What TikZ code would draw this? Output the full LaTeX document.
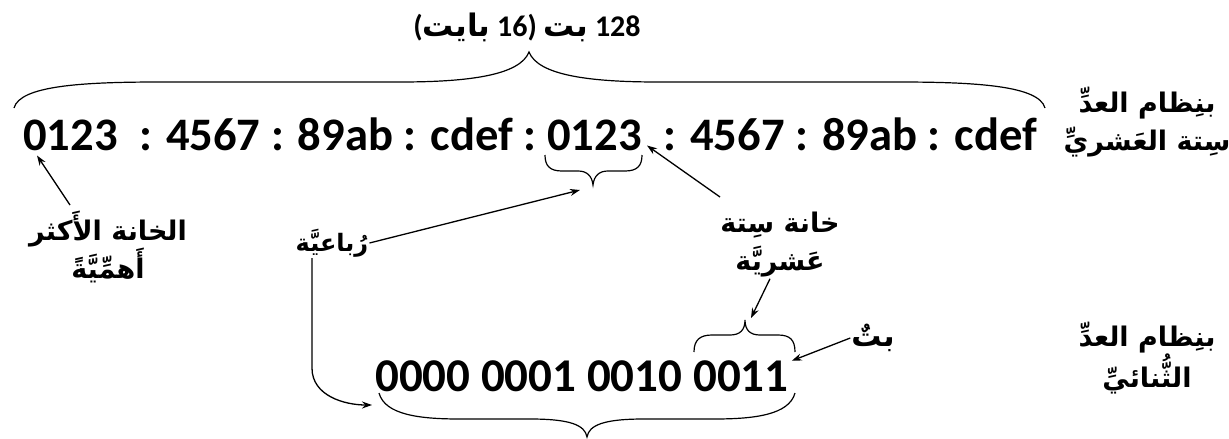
\documentclass[tikz,border=0pt]{standalone}
\usepackage{fontspec}
\setmainfont{Carlito}
\newfontfamily\arfont[Script=Arabic]{DejaVu Sans}
\TeXXeTstate=1
\usetikzlibrary{arrows.meta}
\begin{document}
\begin{tikzpicture}[x=1pt,y=-1pt,
  hex/.style={font=\fontsize{46.6}{56}\selectfont\bfseries, inner sep=0pt, anchor=base west},
  bin/.style={font=\fontsize{47}{56}\selectfont\bfseries, inner sep=0pt, anchor=base west},
  lbl/.style={font=\arfont\bfseries\fontsize{27}{38}\selectfont, align=center, inner sep=1pt},
  brc/.style={line width=1.2pt},
  arr/.style={line width=1.3pt, -{Stealth[length=10pt,width=7pt]}},
]
\useasboundingbox (0,0) rectangle (1229,439);

% hexadecimal line
\node[hex] (h1) at (23,150) {0123};
\node[hex] (r1) at (h1.base east) {\ \ : 4567 : 89ab : cdef :\ \hbox{}};
\node[hex] (h2) at (r1.base east) {0123};
\node[hex] (r2) at (h2.base east) {\ \ : 4567 : 89ab : cdef};

% binary line
\node[bin] (b1) at (375,391) {0000 0001 0010\ \hbox{}};
\node[bin] (b2) at (b1.base east) {0011};

% title
\node[font=\fontsize{30}{36}\selectfont\bfseries, inner sep=0pt] (top) at (527,27)
  {({\arfont\fontsize{31}{36}\selectfont\beginR بايت\endR} 16) {\arfont\fontsize{31}{36}\selectfont\beginR بت\endR} 128};

% labels
\node[lbl] (hexlbl) at (1147,122) {\beginR بنِظام العدِّ\endR\\\beginR سِتة العَشريِّ\endR};
\node[lbl] (binlbl) at (1147,358) {\beginR بنِظام العدِّ\endR\\\beginR الثُّنائيِّ\endR};
\node[lbl] (msd) at (108,247) {\beginR الخانة الأَكثر\endR\\\beginR أَهمِّيَّةً\endR};
\node[lbl, font=\arfont\bfseries\fontsize{24}{38}\selectfont] (quad) at (332,243) {\beginR رُباعيَّة\endR};
\node[lbl] (hexd) at (780,245) {\beginR خانة سِتة\endR\\\beginR عَشريَّة\endR};
\node[lbl, font=\arfont\bfseries\fontsize{30}{38}\selectfont] (bitl) at (873,338) {\beginR بتٌ\endR};

% braces
\draw[brc] (14,108) .. controls (20,86) and (80,82) .. (160,82) -- (400,82)
  .. controls (470,82) and (520,75) .. (529,52)
  .. controls (538,75) and (588,82) .. (658,82) -- (898,82)
  .. controls (978,82) and (1039,86) .. (1045,108);
\draw[brc] (545,155) .. controls (545,166) and (550,171) .. (562,171) -- (578,171)
  .. controls (587,171) and (592,176) .. (593,185)
  .. controls (594,176) and (599,171) .. (608,171) -- (625,171)
  .. controls (637,171) and (642,166) .. (642,155);
\draw[brc] (694,352) .. controls (694,340) and (700,335) .. (712,335) -- (730,335)
  .. controls (740,335) and (745,330) .. (745,320)
  .. controls (745,330) and (750,335) .. (760,335) -- (778,335)
  .. controls (790,335) and (795,340) .. (795,352);
\draw[brc] (379,393) .. controls (385,415) and (420,419) .. (460,419) -- (530,419)
  .. controls (570,419) and (585,425) .. (587,437)
  .. controls (589,425) and (604,419) .. (644,419) -- (714,419)
  .. controls (754,419) and (789,415) .. (795,393);

% connector end points
\coordinate (qtip) at (580,190);
\coordinate (btip) at (372,405);
\coordinate (stip) at (751,318);
\coordinate (msdtail) at (70,205);
\coordinate (hexdtail) at (720,197);

% connectors
\draw[arr] (msdtail) -- ([xshift=14pt,yshift=-5pt]h1.south west);
\draw[arr] (quad.east) -- (qtip);
\draw[arr] ([xshift=-20pt]quad.south) -- ++(0,110) to[out=-90,in=180] (btip);
\draw[arr] (hexdtail) -- ([xshift=5pt,yshift=5pt]h2.south east);
\draw[arr] ([xshift=-10pt]hexd.south) -- (stip);
\draw[arr] (bitl.west) -- ([xshift=3pt,yshift=15pt]b2.east);
\end{tikzpicture}
\end{document}
